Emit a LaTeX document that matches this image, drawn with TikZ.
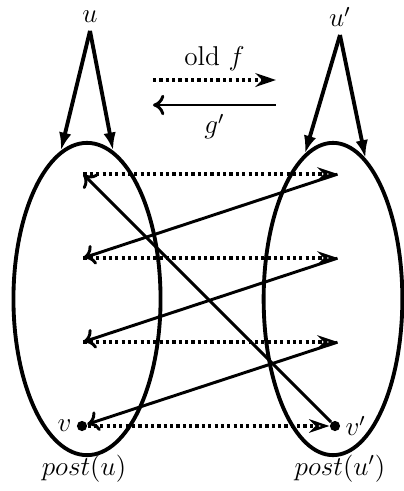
\documentclass[tikz,border=0pt]{standalone}
\usepackage{amsmath}
\usetikzlibrary{arrows.meta,shapes.geometric}

\begin{document}
\begin{tikzpicture}[
  x=0.155mm, y=-0.155mm,
  every node/.style={font=\large},
  set/.style={draw, ellipse, line width=1.7pt, inner sep=0pt},
  pt/.style={circle, fill, inner sep=0pt, minimum size=4.5pt},
  spot/.style={inner sep=0pt, minimum size=0pt},
  fwd/.style={-{Stealth[length=9pt,width=6pt,open,line width=1.1pt]}, line width=1.6pt, dash pattern=on 1.4pt off 1.4pt},
  back/.style={-{To[length=5pt,width=9pt]}, line width=1.3pt},
  pick/.style={-{Latex[length=8pt,width=5.5pt]}, line width=1.7pt},
]
\useasboundingbox (0,0) rectangle (404,491);

%------------------- the two sets -------------------
\node (postu) [set, minimum width=22.8mm, minimum height=48.4mm] at (87,299) {};
\node (postup) [set, minimum width=21.5mm, minimum height=48.4mm] at (333,299) {};
\node (lpostu) at (84,469) {$post(u)$};
\node (lpostup) at (340,469) {$post(u')$};

% top states
\node (u) at (90,17) {$u$};
\node (up) at (340,17) {$u'$};

% legend in the middle
\coordinate (fa) at (153,80);
\coordinate (fb) at (276,80);
\coordinate (ga) at (276,105);
\coordinate (gb) at (153,105);

% points inside the sets
\node (l1) [spot] at (83,174) {};
\node (l2) [spot] at (83,258) {};
\node (l3) [spot] at (83,342) {};
\node (v) [pt, label={[inner sep=2pt]left:$v$}] at (82,426) {};
\node (r1) [spot] at (338,174) {};
\node (r2) [spot] at (338,258) {};
\node (r3) [spot] at (338,342) {};
\node (vp) [pt, label={[inner sep=2pt]right:$v'$}] at (335,426) {};

%------------------- Arrows -------------------
\draw[pick] (u.south) -- (postu.100);
\draw[pick] (u.south) -- (postu.80);
\draw[pick] (up.south) -- (postup.101);
\draw[pick] (up.south) -- (postup.77);

\draw[fwd, -{Stealth[length=9pt,width=6pt]}] (fa) -- node[above=0pt] {old\ $f$} (fb);
\draw[back] (ga) -- node[below=0pt] {$g'$} (gb);

\draw[fwd] (l1) -- (r1);
\draw[fwd] (l2) -- (r2);
\draw[fwd] (l3) -- (r3);
\draw[fwd] (v) -- (vp);

\draw[back] (r1) -- (l2);
\draw[back] (r2) -- (l3);
\draw[back] (r3) -- (v);
\draw[back] (vp) -- (l1);

\end{tikzpicture}
\end{document}
